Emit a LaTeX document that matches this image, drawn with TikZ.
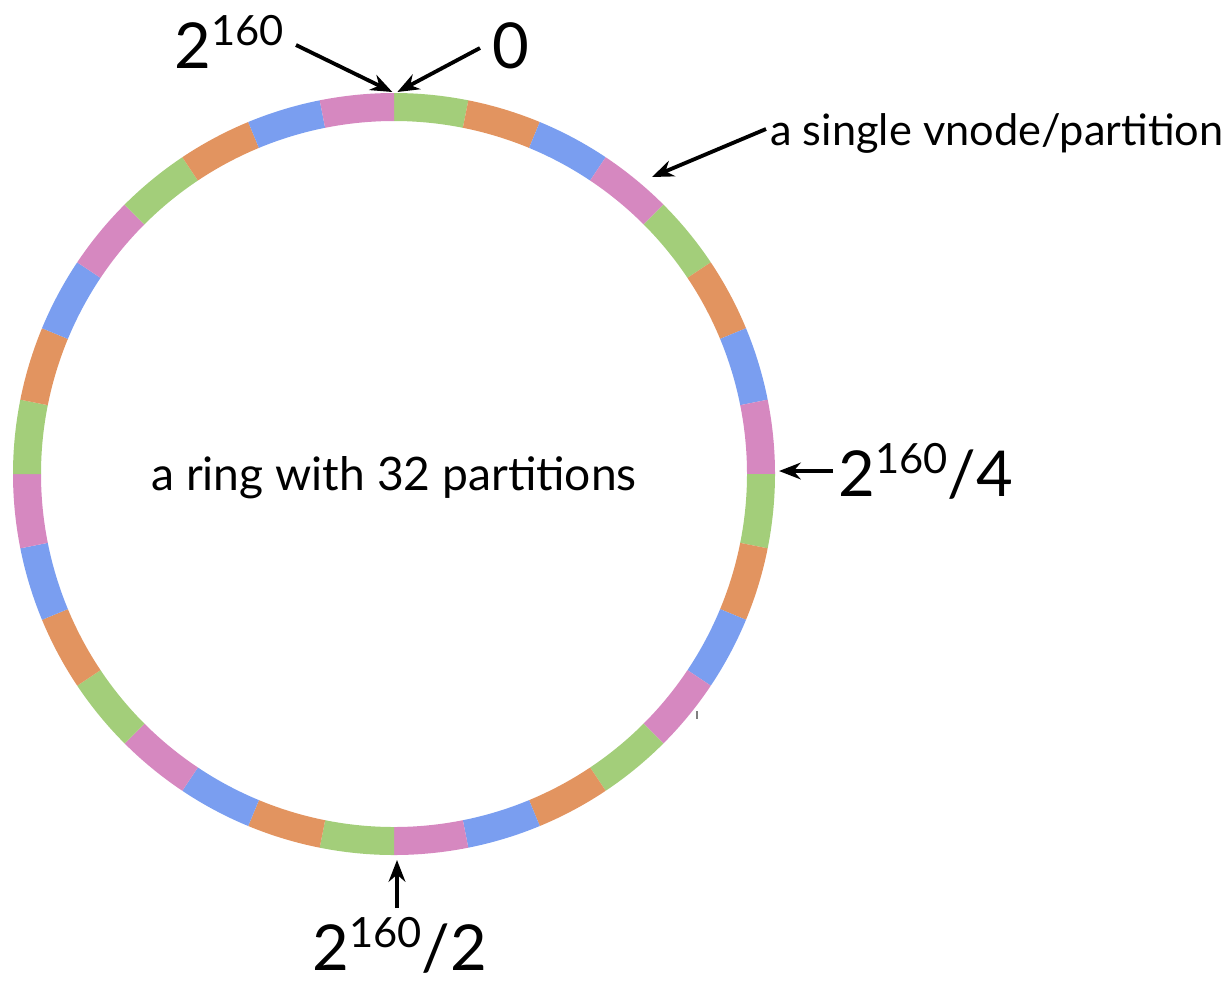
\documentclass[tikz,border=0pt]{standalone}
\usepackage{fontspec}
\setmainfont{Lato}
\usetikzlibrary{arrows.meta}
\definecolor{segG}{RGB}{163,206,122}
\definecolor{segO}{RGB}{226,148,96}
\definecolor{segB}{RGB}{122,158,240}
\definecolor{segP}{RGB}{214,136,192}
\begin{document}
\begin{tikzpicture}[x=0.6pt,y=-0.6pt,
  lbl/.style={inner sep=0pt,font=\fontsize{26}{30}\selectfont},
  biglbl/.style={inner sep=0pt,font=\fontsize{38}{42}\selectfont},
  pointer/.style={line width=2.3pt,-{Stealth[length=13pt,width=10pt]}}]
\useasboundingbox (0,0) rectangle (1228,981);
\def\Ri{353}\def\Ro{381}
\foreach \k in {0,...,31}{
  \pgfmathtruncatemacro{\m}{mod(\k,4)}
  \pgfmathsetmacro{\aa}{-90+11.25*\k}
  \pgfmathsetmacro{\ab}{-90+11.25*(\k+1)}
  \ifcase\m \def\c{segG}\or \def\c{segO}\or \def\c{segB}\or \def\c{segP}\fi
  \fill[\c,shift={(394,474)}] (\aa:\Ri) arc[start angle=\aa,end angle=\ab,radius=\Ri]
     -- (\ab:\Ro) arc[start angle=\ab,end angle=\aa,radius=\Ro] -- cycle;
}
\node[inner sep=0pt,font=\fontsize{27.7}{31}\selectfont] (ringtxt) at (394,478) {a ring with 32 partitions};
% labels
\node[biglbl,anchor=base west] (top160) at (174,68) {2\raisebox{13.8pt}{\fontsize{25}{25}\selectfont 160}};
\node[biglbl,anchor=base west] (zero) at (492,68) {0};
\node[lbl,anchor=base west] (vnode) at (770,145) {a single vnode/partition};
\node[biglbl,anchor=base west] (quarter) at (838,496) {2\raisebox{13.8pt}{\fontsize{25}{25}\selectfont 160}/4};
\node[biglbl,anchor=base west] (half) at (312,970) {2\raisebox{13.8pt}{\fontsize{25}{25}\selectfont 160}/2};
% targets
\coordinate (t0) at (394,92);
\coordinate (tv) at (652,177);
\coordinate (tq) at (779,471);
\coordinate (th) at (397,860);
\coordinate (s160) at (296,45);
\coordinate (s0) at (480,48);
\coordinate (sv) at (766,129);
\coordinate (sq) at (833,471);
\coordinate (sh) at (397,908);
\draw[pointer] (s160) -- ([xshift=-1]t0);
\draw[pointer] (s0) -- ([xshift=2]t0);
\draw[pointer] (sv) -- (tv);
\draw[pointer] (sq) -- (tq);
\draw[pointer] (sh) -- (th);
\draw[line width=0.8pt,gray] (697,711) -- (697,719);
\end{tikzpicture}
\end{document}
